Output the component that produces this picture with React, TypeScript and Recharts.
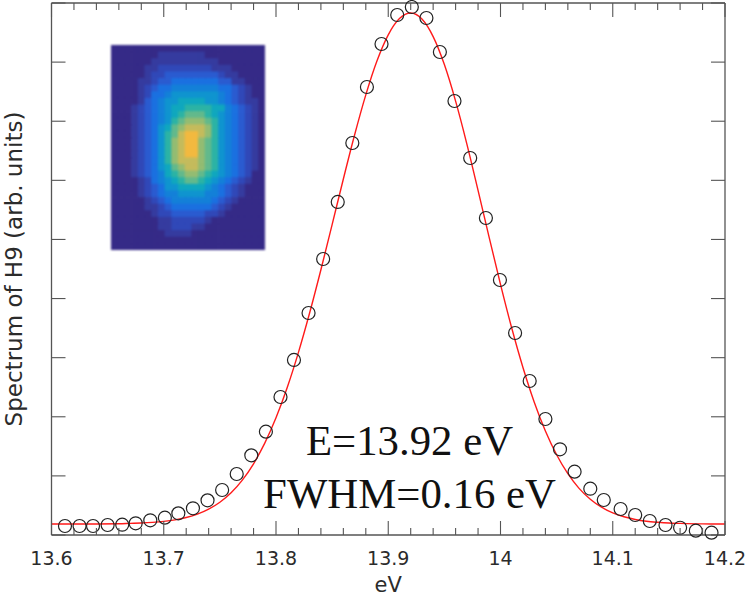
import React from 'react';
import { ComposedChart, ScatterChart, Line, Scatter, XAxis, YAxis, Label } from 'recharts';

const AXIS_COLOR = '#555555';
const TEXT_COLOR = '#2b2b2b';

const xTicks = [13.6, 13.62, 13.64, 13.66, 13.68, 13.7, 13.72, 13.74, 13.76, 13.78, 13.8, 13.82, 13.84, 13.86, 13.88, 13.9, 13.92, 13.94, 13.96, 13.98, 14, 14.02, 14.04, 14.06, 14.08, 14.1, 14.12, 14.14, 14.16, 14.18, 14.2];
const xMajor = [13.6, 13.7, 13.8, 13.9, 14, 14.1, 14.2];
const yTicks = [0, 1, 2, 3, 4, 5, 6, 7, 8, 9];

const measuredX = [13.612, 13.625, 13.637, 13.65, 13.663, 13.675, 13.688, 13.701, 13.713, 13.726, 13.739, 13.752, 13.765, 13.778, 13.791, 13.804, 13.816, 13.829, 13.842, 13.855, 13.868, 13.881, 13.894, 13.908, 13.921, 13.934, 13.946, 13.959, 13.973, 13.987, 13.9995, 14.013, 14.026, 14.04, 14.053, 14.066, 14.08, 14.092, 14.107, 14.12, 14.133, 14.147, 14.16, 14.174, 14.188];
const measuredY = [0.152, 0.152, 0.152, 0.169, 0.174, 0.198, 0.249, 0.293, 0.367, 0.452, 0.587, 0.761, 1.032, 1.348, 1.748, 2.335, 2.961, 3.756, 4.669, 5.634, 6.632, 7.579, 8.306, 8.797, 8.932, 8.746, 8.171, 7.342, 6.378, 5.363, 4.314, 3.417, 2.605, 1.962, 1.45, 1.071, 0.783, 0.592, 0.44, 0.338, 0.237, 0.169, 0.123, 0.073, 0.039];

const fitX = [13.6, 13.62, 13.64, 13.66, 13.67, 13.68, 13.69, 13.7, 13.71, 13.72, 13.73, 13.74, 13.75, 13.76, 13.77, 13.78, 13.79, 13.8, 13.81, 13.82, 13.83, 13.84, 13.85, 13.86, 13.87, 13.88, 13.89, 13.9, 13.91, 13.92, 13.93, 13.94, 13.95, 13.96, 13.97, 13.98, 13.99, 14, 14.01, 14.02, 14.03, 14.04, 14.05, 14.06, 14.07, 14.08, 14.09, 14.1, 14.11, 14.12, 14.13, 14.14, 14.15, 14.16, 14.18, 14.2];
const fitY = [0.186, 0.186, 0.187, 0.19, 0.196, 0.202, 0.213, 0.23, 0.256, 0.296, 0.354, 0.438, 0.555, 0.715, 0.929, 1.205, 1.554, 1.982, 2.495, 3.09, 3.759, 4.487, 5.251, 6.023, 6.767, 7.446, 8.023, 8.462, 8.737, 8.831, 8.729, 8.432, 7.958, 7.34, 6.618, 5.831, 5.027, 4.241, 3.501, 2.834, 2.251, 1.759, 1.357, 1.037, 0.789, 0.605, 0.47, 0.374, 0.308, 0.263, 0.233, 0.215, 0.202, 0.196, 0.188, 0.186];

const insetPalette = ['#352a87', '#353b9f', '#3048b8', '#2a5bd0', '#1a70e0', '#1380d8', '#0f94cf', '#0fa7be', '#2bb3a5', '#62b98c', '#93bc72', '#c4bb5c', '#f2b93f'];
const insetRows = [
  '00000000000000000000000',
  '00000001111111000000000',
  '00000011111111110000000',
  '00000112222222211100000',
  '00000122333333332110000',
  '00001123344444443311000',
  '00001234455555554432100',
  '00001244566666665432100',
  '00001345667777665432110',
  '00012345677888877543210',
  '00012345678999876543210',
  '00012345689aaa986543210',
  '0001234679abbba86543210',
  '0001234689bccba86543210',
  '000123468abcca986543210',
  '000123468abcca986543210',
  '000123468abcca986543210',
  '000123468abbba986543210',
  '0001234679abba986543210',
  '00012345789aa9876543200',
  '00001245678998765432100',
  '00001234667777654321000',
  '00001234556666554321000',
  '00000123455555543210000',
  '00000112344444432100000',
  '00000012233333221000000',
  '00000001122222100000000',
  '00000001122211000000000',
  '00000000111100000000000',
  '00000000000000000000000',
  '00000000000000000000000',
];

const measured = measuredX.map((x, i) => ({ x, y: measuredY[i] }));
const fit = fitX.map((x, i) => ({ x, y: fitY[i] }));
const insetCells = insetRows.flatMap((row, r) =>
  row.split('').map((ch, c) => ({ col: c + 0.5, row: r + 0.5, level: parseInt(ch, 16) }))
);

const INSET_W = 154;
const INSET_H = 205;
const CELL_W = INSET_W / insetRows[0].length;
const CELL_H = INSET_H / insetRows.length;

const isMajor = (v: number) => xMajor.includes(v);

const BottomTick = (p: any) => {
  const v = p.payload.value;
  const len = isMajor(v) ? 14 : 7;
  return (
    <g>
      <line x1={p.x} x2={p.x} y1={p.y} y2={p.y - len} stroke={AXIS_COLOR} strokeWidth={1.1} />
      {isMajor(v) && (
        <text x={p.x} y={p.y + 30} textAnchor="middle" fontFamily="DejaVu Sans" fontSize={19} fill={TEXT_COLOR}>
          {String(v)}
        </text>
      )}
    </g>
  );
};

const TopTick = (p: any) => {
  const len = isMajor(p.payload.value) ? 14 : 7;
  return <line x1={p.x} x2={p.x} y1={p.y} y2={p.y + len} stroke={AXIS_COLOR} strokeWidth={1.1} />;
};

const LeftTick = (p: any) => <line x1={p.x} x2={p.x + 14} y1={p.y} y2={p.y} stroke={AXIS_COLOR} strokeWidth={1.1} />;
const RightTick = (p: any) => <line x1={p.x} x2={p.x - 14} y1={p.y} y2={p.y} stroke={AXIS_COLOR} strokeWidth={1.1} />;

const Ring = (p: any) => <circle cx={p.cx} cy={p.cy} r={6.5} fill="none" stroke="#222222" strokeWidth={1.2} />;

const HeatCell = (p: any) => (
  <rect
    x={p.cx - CELL_W / 2}
    y={p.cy - CELL_H / 2}
    width={CELL_W + 0.8}
    height={CELL_H + 0.8}
    fill={insetPalette[p.payload.level]}
  />
);

const axisLine = { stroke: AXIS_COLOR, strokeWidth: 1.3 };

export default function App() {
  return (
    <div style={{ position: 'absolute', left: 0, top: 0, width: 748, height: 597 }}>
      <ComposedChart width={748} height={597} margin={{ top: 2, right: 22, bottom: 61, left: 50.5 }}>
        <XAxis
          xAxisId="bottom"
          type="number"
          dataKey="x"
          domain={[13.6, 14.2]}
          ticks={xTicks}
          interval={0}
          height={1}
          tickSize={0}
          tickMargin={0}
          tickLine={false}
          axisLine={axisLine}
          tick={BottomTick}
        >
          <Label value="eV" position="bottom" offset={41} fontFamily="DejaVu Sans" fontSize={21} fill={TEXT_COLOR} />
        </XAxis>
        <XAxis
          xAxisId="top"
          orientation="top"
          type="number"
          dataKey="x"
          domain={[13.6, 14.2]}
          ticks={xTicks}
          interval={0}
          height={1}
          tickSize={0}
          tickMargin={0}
          tickLine={false}
          axisLine={axisLine}
          tick={TopTick}
        />
        <YAxis
          yAxisId="left"
          type="number"
          domain={[0, 9]}
          ticks={yTicks}
          interval={0}
          width={1}
          tickSize={0}
          tickMargin={0}
          tickLine={false}
          axisLine={axisLine}
          tick={LeftTick}
        >
          <Label
            value="Spectrum of H9 (arb. units)"
            angle={-90}
            position="left"
            offset={37}
            textAnchor="middle"
            fontFamily="DejaVu Sans"
            fontSize={23}
            fill={TEXT_COLOR}
          />
        </YAxis>
        <YAxis
          yAxisId="right"
          orientation="right"
          type="number"
          domain={[0, 9]}
          ticks={yTicks}
          interval={0}
          width={1}
          tickSize={0}
          tickMargin={0}
          tickLine={false}
          axisLine={axisLine}
          tick={RightTick}
        />
        <Line
          xAxisId="top"
          yAxisId="right"
          data={fit}
          dataKey="y"
          stroke="none"
          dot={false}
          legendType="none"
          isAnimationActive={false}
        />
        <Line
          xAxisId="bottom"
          yAxisId="left"
          data={fit}
          dataKey="y"
          type="monotone"
          stroke="#ff1a1a"
          strokeWidth={1.4}
          dot={false}
          isAnimationActive={false}
        />
        <Scatter
          xAxisId="bottom"
          yAxisId="left"
          data={measured}
          dataKey="y"
          shape={Ring}
          isAnimationActive={false}
        />
        <text x={409.5} y={455} textAnchor="middle" fontFamily="Liberation Serif" fontSize={42.8} fill="#111111">
          E=13.92 eV
        </text>
        <text x={409.5} y={508} textAnchor="middle" fontFamily="Liberation Serif" fontSize={42.8} fill="#111111">
          FWHM=0.16 eV
        </text>
      </ComposedChart>
      <div style={{ position: 'absolute', left: 110.5, top: 45, filter: 'blur(1px)' }}>
        <ScatterChart width={INSET_W} height={INSET_H} margin={{ top: 0, right: 0, bottom: 0, left: 0 }}>
          <XAxis type="number" dataKey="col" domain={[0, insetRows[0].length]} hide />
          <YAxis type="number" dataKey="row" domain={[0, insetRows.length]} reversed hide />
          <Scatter data={insetCells} shape={HeatCell} isAnimationActive={false} />
        </ScatterChart>
      </div>
    </div>
  );
}
